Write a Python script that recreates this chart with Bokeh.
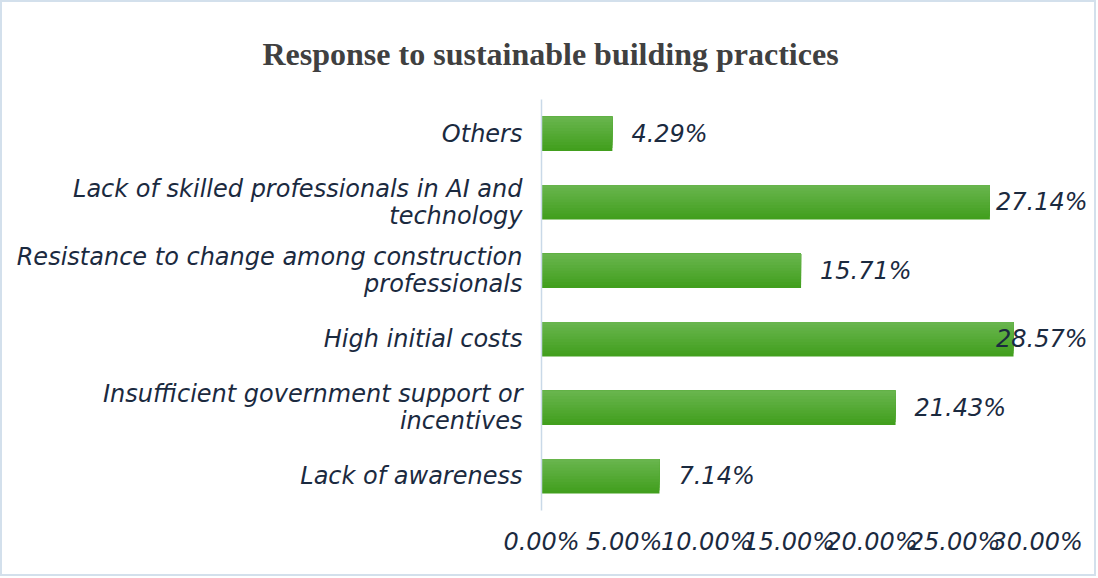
from bokeh.plotting import figure
from bokeh.models import Range1d, FactorRange, FixedTicker, ColumnDataSource
from bokeh.transform import dodge
from bokeh.embed import file_html
from bokeh.resources import INLINE

title_text = "Response to sustainable building practices"
categories = [
    "Lack of awareness",
    "Insufficient government support or\nincentives",
    "High initial costs",
    "Resistance to change among construction\nprofessionals",
    "Lack of skilled professionals in AI and\ntechnology",
    "Others",
]
values = [7.14, 21.43, 28.57, 15.71, 27.14, 4.29]
tick_values = [0, 5, 10, 15, 20, 25, 30]
tick_labels = ["0.00%", "5.00%", "10.00%", "15.00%", "20.00%", "25.00%", "30.00%"]

X_END = 33.35
LABEL_FONT = "DejaVu Sans"
TEXT_COLOR = "#1B2A3F"

p = figure(
    width=1096, height=576,
    y_range=FactorRange(factors=categories, range_padding=0),
    x_range=Range1d(0, X_END),
    output_backend="svg", toolbar_location=None,
    min_border_left=539, min_border_right=6, min_border_top=97, min_border_bottom=68,
    styles={"border": "2px solid #D3E0EC"},
)
p.title.text = title_text
p.title.align = "left"
p.title.offset = -279
p.title.text_font = "Liberation Serif"
p.title.text_font_style = "bold"
p.title.text_font_size = "32px"
p.title.text_color = "#404040"
p.title.standoff = 56

p.outline_line_color = None
p.xgrid.grid_line_color = None
p.ygrid.grid_line_color = None

src_bars = ColumnDataSource(dict(y=categories, right=values))
# bars with a soft vertical gradient (light top, darker bottom):
# full bar in the bottom colour, then shorter top-anchored overlays, lighter each time
bar_h = 0.5
n_bands = 12
top_rgb = (0x68, 0xB5, 0x4D)
bot_rgb = (0x42, 0x9F, 0x1E)
for i in range(n_bands):
    t = i / (n_bands - 1)
    rgb = tuple(round(bot_rgb[k] + (top_rgb[k] - bot_rgb[k]) * t) for k in range(3))
    col = "#%02X%02X%02X" % rgb
    h = bar_h * (1 - i / n_bands)
    off = bar_h / 2 - h / 2
    p.hbar(y=dodge("y", off, range=p.y_range), right="right", left=0,
           height=h, source=src_bars, fill_color=col, line_color=None)

# data labels
offset_px = 19
label_w_data = (offset_px + 94) / 16.5
lx, align, xoff = [], [], []
for v in values:
    if v + label_w_data > X_END:
        lx.append(X_END); align.append("right"); xoff.append(-5)
    else:
        lx.append(v); align.append("left"); xoff.append(offset_px)
src = ColumnDataSource(dict(y=categories, x=lx, align=align, xoff=xoff,
                            text=[f"{v:.2f}%" for v in values]))
p.text(x="x", y="y", text="text", source=src, text_align="align",
       x_offset="xoff", text_baseline="middle", text_font_size="24px",
       text_font_style="italic", text_color=TEXT_COLOR,
       text_font={"value": LABEL_FONT})

# x axis
p.xaxis.ticker = FixedTicker(ticks=tick_values)
p.xaxis.major_label_overrides = {t: l for t, l in zip(tick_values, tick_labels)}
p.xaxis.axis_line_color = None
p.xaxis.major_tick_line_color = None
p.xaxis.minor_tick_line_color = None
p.xaxis.major_label_standoff = 11
p.xaxis.major_label_text_font = LABEL_FONT
p.xaxis.major_label_text_font_style = "italic"
p.xaxis.major_label_text_font_size = "24px"
p.xaxis.major_label_text_color = TEXT_COLOR

# y axis
p.yaxis.axis_line_color = "#C9D9E8"
p.yaxis.axis_line_width = 1.5
p.yaxis.major_tick_line_color = None
p.yaxis.minor_tick_line_color = None
p.yaxis.major_label_standoff = 13
p.yaxis.major_label_text_font = LABEL_FONT
p.yaxis.major_label_text_font_style = "italic"
p.yaxis.major_label_text_font_size = "24px"
p.yaxis.major_label_text_color = TEXT_COLOR
p.yaxis.major_label_text_line_height = 0.97

open("out.html", "w").write(file_html(p, INLINE))
